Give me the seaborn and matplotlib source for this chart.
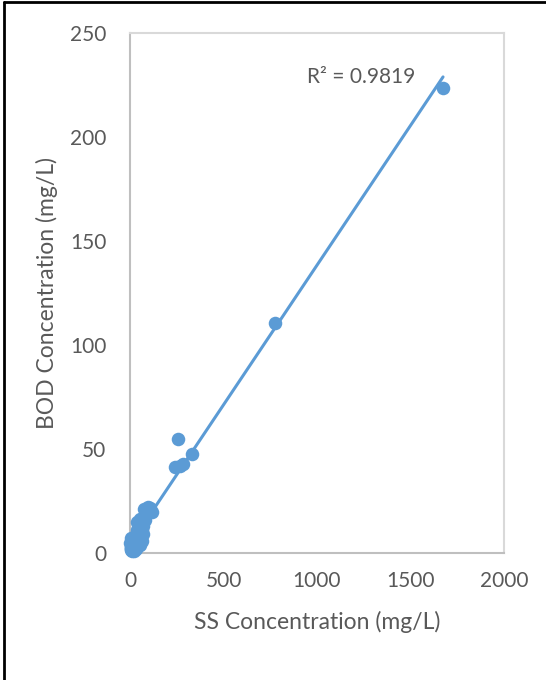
import numpy as np
import pandas as pd
import matplotlib
matplotlib.use("Agg")
import matplotlib.pyplot as plt
import seaborn as sns

# Suspended solids vs. BOD samples (mg/L)
ss_conc = [1674, 775, 331, 257, 240, 283, 265, 120, 105, 95, 85, 75, 70, 88,
           60, 55, 50, 45, 40, 38, 35, 30, 28, 25, 22, 20, 18, 15, 12, 10, 8,
           5, 3, 65, 55, 40, 30, 20, 15, 10, 70, 62, 50, 45, 35, 80, 72, 58,
           2, 6, 4]
bod_conc = [223.6, 110.6, 47.6, 55.0, 41.5, 43.0, 42.0, 19.5, 21.5, 22.0,
            20.5, 21.0, 17.0, 19.0, 15.0, 16.5, 13.0, 12.0, 11.0, 9.0, 10.0,
            8.0, 7.0, 6.0, 5.0, 6.0, 4.0, 5.0, 3.0, 4.0, 2.5, 3.0, 1.5, 6.0,
            4.0, 3.0, 2.0, 1.0, 2.0, 1.0, 9.0, 11.0, 7.5, 14.0, 15.0, 16.0,
            13.0, 10.0, 5.0, 7.0, 2.0]
r_squared_label = "R² = 0.9819"
x_ticks = [0, 500, 1000, 1500, 2000]
y_ticks = [0, 50, 100, 150, 200, 250]

df = pd.DataFrame({"SS": ss_conc, "BOD": bod_conc})

sns.set_theme(style="white")
plt.rcParams["font.family"] = ["Lato", "DejaVu Sans"]

blue = "#5b9bd5"
text_gray = "#595959"

fig = plt.figure(figsize=(5.46, 6.8), dpi=100)
ax = fig.add_axes([130 / 546, 1 - 553 / 680, 374 / 546, 520 / 680])

sns.regplot(data=df, x="SS", y="BOD", ax=ax, ci=None,
            scatter_kws=dict(s=95, color=blue, alpha=1, linewidths=0,
                             clip_on=False, zorder=3),
            line_kws=dict(color=blue, lw=2.2, zorder=4))

ax.set_xlim(0, 2000)
ax.set_ylim(0, 250)
ax.set_xticks(x_ticks)
ax.set_yticks(y_ticks)
ax.tick_params(axis="both", length=0, labelsize=15, labelcolor=text_gray)
ax.tick_params(axis="x", pad=13)
ax.tick_params(axis="y", pad=17)
ax.set_xlabel("SS Concentration (mg/L)", fontsize=16.5, color=text_gray, labelpad=14)
ax.set_ylabel("BOD Concentration (mg/L)", fontsize=16.5, color=text_gray, labelpad=9)

for side in ("top", "right"):
    ax.spines[side].set_color("#d9d9d9")
    ax.spines[side].set_linewidth(1.5)
for side in ("left", "bottom"):
    ax.spines[side].set_color("#bfbfbf")
    ax.spines[side].set_linewidth(1.5)

ax.text(0.472, 0.915, r_squared_label, transform=ax.transAxes,
        fontsize=15, color=text_gray, ha="left", va="center")

# outer chart frame (left and top edges fall inside the canvas)
fig.add_artist(plt.Line2D([4 / 546, 4 / 546], [0, 1 - 2 / 680], color="black",
                          lw=2, transform=fig.transFigure))
fig.add_artist(plt.Line2D([4 / 546, 1], [1 - 2 / 680, 1 - 2 / 680], color="black",
                          lw=2, transform=fig.transFigure))

fig.savefig("out.png", dpi=100)
